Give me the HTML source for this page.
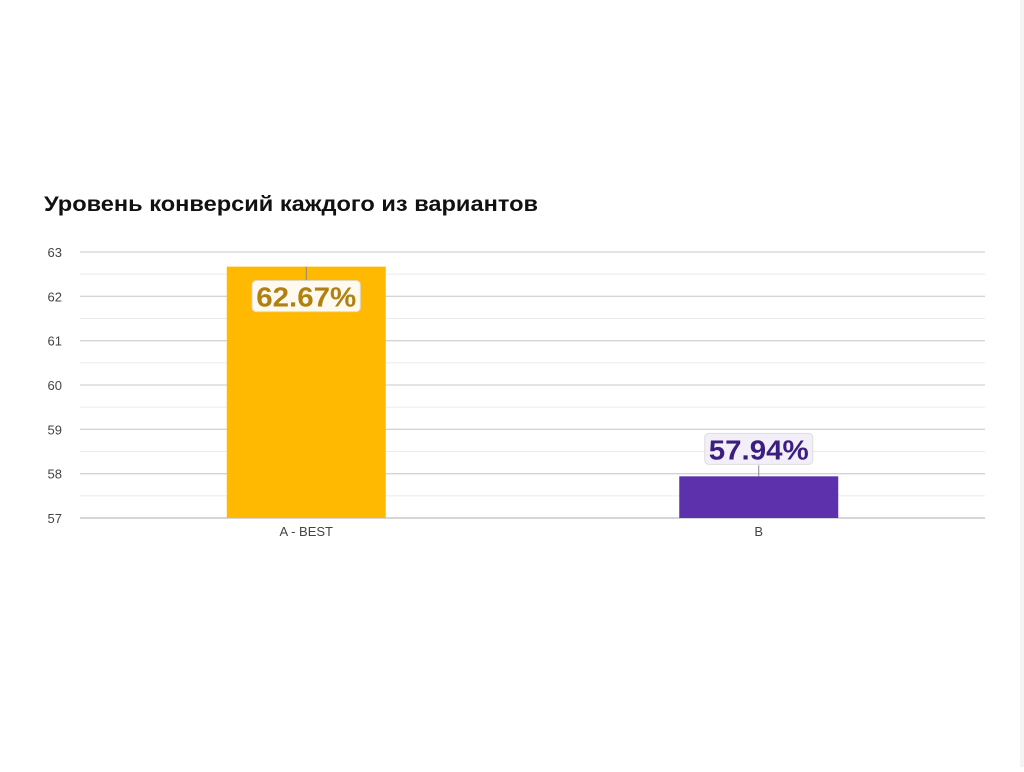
<!DOCTYPE html>
<html><head><meta charset="utf-8"><style>
html,body{margin:0;padding:0;background:#fff;}
body{width:1024px;height:767px;overflow:hidden;font-family:"Liberation Sans",Arial,sans-serif;}
</style></head><body>
<svg id="chart" width="1024" height="767" xmlns="http://www.w3.org/2000/svg">
<rect x="1020" y="0" width="4" height="767" fill="#f4f4f4"/>
<text x="44" y="211" font-size="21" font-weight="bold" fill="#111" textLength="494" lengthAdjust="spacingAndGlyphs" font-family="Liberation Sans, DejaVu Sans, sans-serif">Уровень конверсий каждого из вариантов</text>
<g id="grid"></g><g id="bars"></g><g id="labels"></g>
</svg>
<script>
const categories = ["A - BEST", "B"];
const values = [62.67, 57.94];
const valueLabels = ["62.67%", "57.94%"];
const yTicks = [57, 58, 59, 60, 61, 62, 63];
const colors = ["#ffb900", "#5c31ab"];
const labelColors = ["#b08010", "#3b1f80"];
const NS = "http://www.w3.org/2000/svg";
const plotL = 80, plotR = 985, yTop = 252, yBot = 518, yMin = 57, yMax = 63;
function y(v){ return yBot - (v - yMin) / (yMax - yMin) * (yBot - yTop); }
function xc(i){ const bw = (plotR - plotL) / categories.length; return plotL + bw * (i + 0.5); }
function mk(tag, attrs, parent){ const e = document.createElementNS(NS, tag); for (const k in attrs) e.setAttribute(k, attrs[k]); parent.appendChild(e); return e; }
const grid = document.getElementById('grid'), bars = document.getElementById('bars'), labels = document.getElementById('labels');
for (let v = yMin; v < yMax; v++) {
  const m = mk('line', {x1: plotL, x2: plotR, y1: y(v + 0.5), y2: y(v + 0.5), stroke: '#ebebeb', 'stroke-width': 1}, grid);
  
  
}
yTicks.forEach(t => {
  const l = mk('line', {x1: plotL, x2: plotR, y1: y(t), y2: y(t), stroke: t === yMin ? '#bdbdbd' : '#d4d4d4', 'stroke-width': 1.3}, grid);
  
  
  const tx = mk('text', {x: 62, y: y(t) + 5, 'font-size': 13, fill: '#444', 'text-anchor': 'end'}, grid);
  tx.textContent = t;
  
  
});
const barW = 159;
values.forEach((v, i) => {
  const cx = xc(i), top = y(v);
  const r = mk('rect', {x: cx - barW / 2, y: top, width: barW, height: yBot - top, fill: colors[i]}, bars);
  
  
  const xl = mk('text', {x: cx, y: 536, 'font-size': 13, fill: '#444', 'text-anchor': 'middle'}, labels);
  xl.textContent = categories[i];
  
  
  const inside = (yBot - top) > 60;
  const boxTop = inside ? top + 14 : top - 43;
  const ln = mk('line', {x1: cx, x2: cx, y1: inside ? top : boxTop + 32, y2: inside ? boxTop : top, stroke: '#888', 'stroke-width': 1}, labels);
  
  
  const bx = mk('rect', {x: cx - 54, y: boxTop, width: 108, height: 31, rx: 4, fill: inside ? '#fffaf0' : '#f3eff8', stroke: '#ddd', 'stroke-width': 1}, labels);
  
  
  const vt = mk('text', {x: cx, y: boxTop + 26, 'font-size': 28, 'font-weight': 'bold', fill: labelColors[i], 'text-anchor': 'middle', textLength: 100, lengthAdjust: 'spacingAndGlyphs'}, labels);
  vt.textContent = valueLabels[i];
  
  
});
</script>
</body></html>
